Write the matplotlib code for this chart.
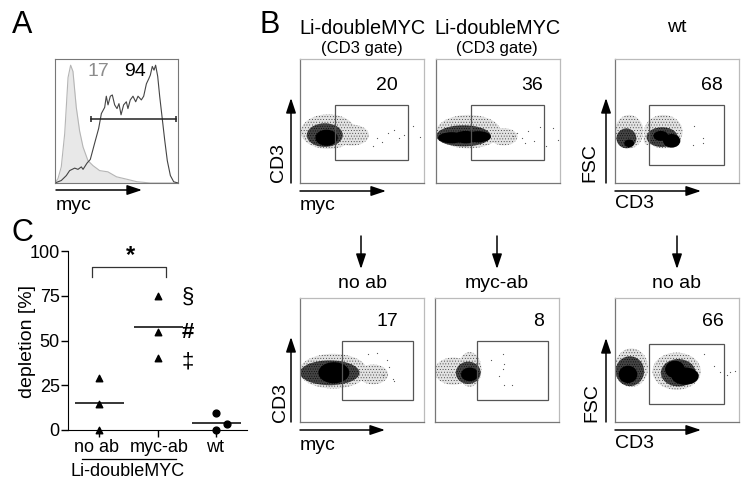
import matplotlib
matplotlib.use('Agg')
import matplotlib.pyplot as plt
from matplotlib.patches import Ellipse, Rectangle

plt.rcParams['font.family'] = ['Liberation Sans', 'DejaVu Sans']
plt.rcParams['hatch.linewidth'] = 0.3

W, H = 745, 488

# panel A histogram, % of the axis range
iso_x = [0, 2.4, 5.1, 7.9, 10.6, 12.7, 14.6, 17.3, 20, 22.8, 26.8, 30.9, 36.3, 43, 50, 58.5, 66.7, 77.6, 100]
iso_y = [0, 3.5, 13, 40, 85, 95, 90, 61, 42, 29, 18, 14, 10, 9, 5, 3, 1, 0, 0]
myc_x = [0, 5.1, 9.2, 11.9, 16, 18.7, 21.4, 22.8, 26, 28.7, 32.2, 35.5, 37.7, 40.4, 41.7, 43.1, 45, 46.6,
         48.5, 50.4, 52, 53.7, 55.8, 58, 59.3, 61.2, 63.4, 65.6, 67.5, 70.2, 72.1, 74.3, 76.2, 77.5, 79.1,
         80.5, 81.8, 83.5, 85.1, 87.3, 89.2, 91.3, 93.8, 96.5, 100]
myc_y = [0, 2, 6, 10, 12, 11, 13, 11, 16, 19, 32, 44, 56, 61, 70, 63, 70, 71,
         63, 60, 64, 55, 63, 65.5, 60, 67, 70, 65.5, 70, 67, 70, 80, 84, 87, 94,
         91, 95, 86, 70, 51, 34.5, 18, 6, 1, 0]
marker_gate = [29, 98, 52]

# panel C
groups = ['no ab', 'myc-ab', 'wt']
no_ab = [29, 14.5, 0]
myc_ab = [75, 55, 40.5]
wt = [9.3, 3.2, 0]
wt_pos = [2, 2.19, 2]
means = [15, 57.5, 4]

# panel B dot plots: cell populations as (x, y, rx, ry) in % of the plot
plots = {
    'top1': dict(box=(300, 59), gate=(335, 408, 105, 160), label='20',
                 sparse=[(22.7, 41.4, 22, 14), (41.6, 38.6, 14, 8.5)],
                 dense=[(20, 38.6, 14.5, 9.5)],
                 core=[(21.4, 36.5, 9, 6.5)],
                 stray=[(59, 30), (71, 40), (76, 43), (84, 39), (91, 46), (97, 37), (62, 36), (66, 33), (80, 36)]),
    'top2': dict(box=(436, 59), gate=(471, 544, 105, 160), label='36',
                 sparse=[(26.2, 41.4, 26, 13.5), (54.6, 37.3, 11, 7)],
                 dense=[(22.2, 38, 22, 8.5)],
                 core=[(12.7, 36.5, 11, 4.5), (24, 37, 10, 5), (34, 37.3, 10.3, 4.5)],
                 stray=[(62, 38), (65, 40), (69, 36), (74, 42), (79, 34), (84, 45), (89, 30), (94, 44), (98, 35), (72, 32)]),
    'top3': dict(box=(615, 59), gate=(649, 724, 105, 165), label='68',
                 sparse=[(11.4, 41.4, 11.5, 13.5), (39, 41.4, 15.5, 13.5), (26, 36, 3, 5.5)],
                 dense=[(9.2, 36, 8, 8), (38, 37, 12.5, 8)],
                 core=[(11.4, 32, 4, 3), (45.7, 34, 7, 5.5), (37, 38, 6, 4)],
                 stray=[(64, 46), (71, 36), (71, 32), (63, 31)]),
    'bot1': dict(box=(300, 298), gate=(342, 413, 341, 400), label='17',
                 sparse=[(26.8, 41, 27.5, 14), (59, 38.4, 12, 8)],
                 dense=[(24, 39.7, 24, 10)],
                 core=[(27.3, 39.7, 12.5, 8.5)],
                 stray=[(55, 55), (62, 56), (70, 50), (75, 35), (76, 33), (67, 38), (72, 44)]),
    'bot2': dict(box=(435, 298), gate=(477, 548, 341, 400), label='8',
                 sparse=[(14.6, 41, 15, 11), (28, 42.4, 9.5, 14)],
                 dense=[(26.8, 39.7, 10, 9)],
                 core=[(28, 38.4, 7, 5.5)],
                 stray=[(52, 37), (55, 55), (55, 43), (56, 30), (62, 30), (56, 47), (45, 50)]),
    'bot3': dict(box=(615, 298), gate=(649, 724, 344, 404), label='66',
                 sparse=[(13.2, 43.8, 13.5, 15.5), (49.7, 41, 19.5, 15)],
                 dense=[(12, 41, 11.5, 12), (51, 39.7, 14, 11)],
                 core=[(10.5, 38.4, 7.5, 7), (56.5, 37, 11, 7), (48.4, 42.4, 8, 7)],
                 stray=[(80, 45), (85, 40), (90, 38), (93, 40), (97, 41), (72, 55)]),
}
label_px = {'top1': (387, 85), 'top2': (532, 85), 'top3': (712, 85),
            'bot1': (387, 322), 'bot2': (539, 322), 'bot3': (713, 322)}


def px_axes(x0, y0, x1, y1):
    # axes from pixel box, y counted from the top of the image
    return fig.add_axes([x0 / W, 1 - y1 / H, (x1 - x0) / W, (y1 - y0) / H])


fig = plt.figure(figsize=(W / 100, H / 100), dpi=100, facecolor='white')

# overlay for arrows and free text
ov = fig.add_axes([0, 0, 1, 1], zorder=5)
ov.set_xlim(0, W)
ov.set_ylim(H, 0)
ov.axis('off')


def arrow(x0, y0, x1, y1):
    ov.annotate('', xy=(x1, y1), xytext=(x0, y0),
                arrowprops=dict(arrowstyle='-|>,head_length=0.9,head_width=0.3', color='black', lw=1.1,
                                shrinkA=0, shrinkB=0))


def label(x, y, s, size=13, ha='center', **kw):
    ov.text(x, y, s, fontsize=size, ha=ha, va='center', **kw)


# panel A
ax = px_axes(55, 59, 178, 183)
ax.fill_between(iso_x, iso_y, color='#e8e8e8', lw=0)
ax.plot(iso_x, iso_y, color='#b5b5b5', lw=0.8)
ax.plot(myc_x, myc_y, color='#444444', lw=0.8)
ax.plot(marker_gate[:2], [marker_gate[2]] * 2, color='#222222', lw=1.1, marker='|', ms=5, mew=1.1)
ax.set_xlim(0, 100)
ax.set_ylim(0, 100)
ax.set_xticks([])
ax.set_yticks([])
for s in ax.spines.values():
    s.set_color('#777777')
    s.set_linewidth(0.8)

# panel B
for name, p in plots.items():
    x0, y0 = p['box']
    ax = px_axes(x0, y0, x0 + 124, y0 + 124)
    ax.set_xlim(0, 100)
    ax.set_ylim(0, 100)
    ax.set_xticks([])
    ax.set_yticks([])
    for s in ['top', 'right']:
        ax.spines[s].set_color('#bbbbbb')
    for s in ['left', 'bottom']:
        ax.spines[s].set_color('#777777')
    for s in ax.spines.values():
        s.set_linewidth(0.9)
    for c in p['sparse']:
        ax.add_patch(Ellipse(c[:2], 2 * c[2], 2 * c[3], facecolor='#e2e2e2', edgecolor='#333333', lw=0, hatch='......'))
    for c in p['dense']:
        ax.add_patch(Ellipse(c[:2], 2 * c[2], 2 * c[3], facecolor='#444444', edgecolor='black', lw=0, hatch='.......'))
    for c in p['core']:
        ax.add_patch(Ellipse(c[:2], 2 * c[2], 2 * c[3], facecolor='black', edgecolor='none'))
    ax.scatter([q[0] for q in p['stray']], [q[1] for q in p['stray']], s=0.8, color='#555555', lw=0)
    gx0, gx1, gy0, gy1 = p['gate']
    ov.add_patch(Rectangle((gx0, gy0), gx1 - gx0, gy1 - gy0, fill=False, edgecolor='#555555', lw=0.9))
    label(*label_px[name], p['label'], size=14)

# panel C
ax = px_axes(68, 251, 247, 430)
ax.scatter([0] * 3, no_ab, marker='^', color='black', s=22, clip_on=False, zorder=3)
ax.scatter([1] * 3, myc_ab, marker='^', color='black', s=22, clip_on=False, zorder=3)
ax.scatter(wt_pos, wt, marker='o', color='black', s=24, clip_on=False, zorder=3)
for i, m in enumerate(means):
    ax.hlines(m, i - 0.41, i + 0.43, color='black', lw=1.1)
ax.set_xlim(-0.53, 2.53)
ax.set_ylim(0, 100)
ax.set_yticks([0, 25, 50, 75, 100])
ax.set_xticks([0, 1, 2])
ax.set_xticklabels([])
ax.tick_params(labelsize=13, width=1, length=5, pad=1)
ax.spines['top'].set_visible(False)
ax.spines['right'].set_visible(False)
ax.set_facecolor('none')

label(27, 341, 'depletion [%]', size=14, rotation=90)
label(97, 448, groups[0], size=13)
label(159, 448, groups[1], size=13)
label(215, 447, groups[2], size=13)
ov.plot([82, 176], [459, 459], color='black', lw=0.9)
label(128, 472, 'Li-doubleMYC', size=13)
ov.plot([92, 92, 166, 166], [277, 267, 267, 277], color='#333333', lw=0.9)
label(130, 256, '*', size=17, fontweight='bold')
label(188, 297, '§', size=16)
label(188, 333, '#', size=16, fontweight='bold')
label(188, 362, '‡', size=16)

# axis arrows
arrow(56, 190, 142, 190)
label(56, 206, 'myc', size=14, ha='left')
for x, y1, y2 in [(291, 183, 98), (606, 183, 98), (291, 422, 337), (606, 422, 338)]:
    arrow(x, y1, x, y2)
for x0, x1, y in [(300, 386, 191), (615, 701, 191), (300, 385, 430), (615, 701, 430)]:
    arrow(x0, y, x1, y)
for x in (361, 497, 677):
    arrow(x, 236, x, 269)

label(278, 163, 'CD3', size=14, rotation=90)
label(590, 163, 'FSC', size=14, rotation=90)
label(280, 403, 'CD3', size=14, rotation=90)
label(592, 403, 'FSC', size=14, rotation=90)
label(300, 206, 'myc', size=14, ha='left')
label(615, 204, 'CD3', size=14, ha='left')
label(300, 445, 'myc', size=14, ha='left')
label(615, 443, 'CD3', size=14, ha='left')

# titles
label(362, 28, 'Li-doubleMYC', size=14.3)
label(362, 48, '(CD3 gate)', size=12)
label(497, 28, 'Li-doubleMYC', size=14.3)
label(497, 48, '(CD3 gate)', size=12)
label(677, 28, 'wt', size=14)
label(363, 283, 'no ab', size=14)
label(497, 283, 'myc-ab', size=14)
label(677, 283, 'no ab', size=14)

# panel A numbers
label(98, 72, '17', size=14, color='#8c8c8c')
label(135, 72, '94', size=14)

# panel letters
label(22, 25, 'A', size=22)
label(270, 25, 'B', size=22)
label(22, 233, 'C', size=22)

plt.savefig('out.png', dpi=100)
